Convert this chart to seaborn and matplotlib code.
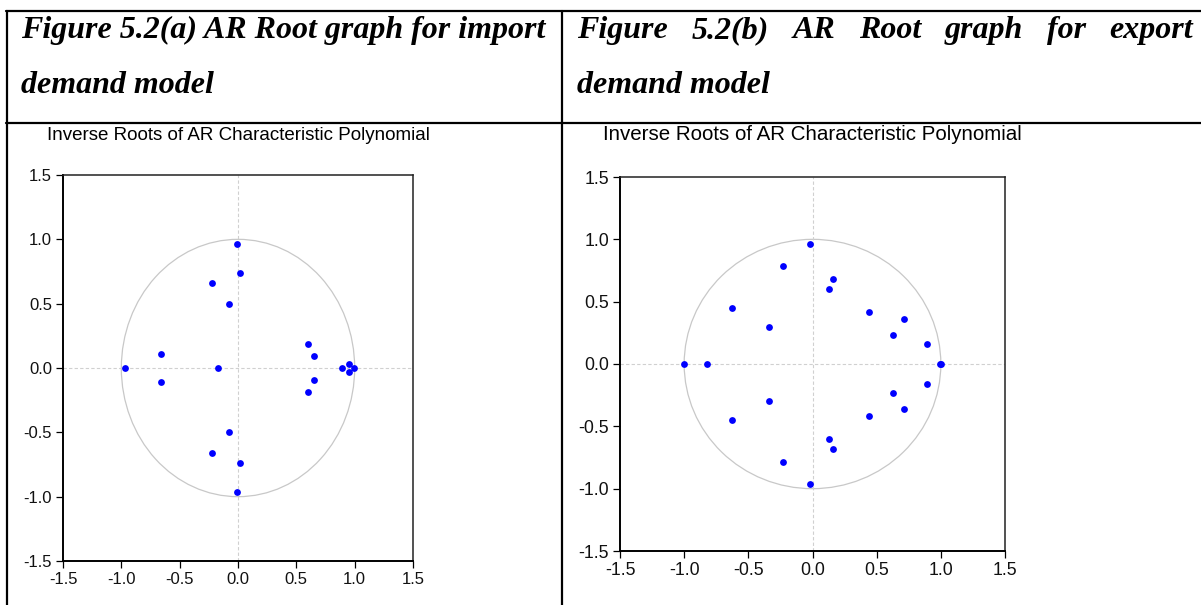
import numpy as np
import pandas as pd
import matplotlib
matplotlib.use("Agg")
import matplotlib.pyplot as plt
from matplotlib.patches import Circle
from matplotlib.lines import Line2D
import seaborn as sns

# Inverse roots, import demand model (a)
import_re = [-0.97, -0.66, -0.66, -0.17, 0.60, 0.65, 0.65, 0.60, 0.89, 0.95,
             0.95, 0.99, -0.08, -0.08, -0.22, -0.22, 0.02, 0.02, -0.01, -0.01]
import_im = [0.0, 0.11, -0.11, 0.0, 0.19, 0.09, -0.09, -0.19, 0.0, 0.03,
             -0.03, 0.0, 0.50, -0.50, 0.66, -0.66, 0.74, -0.74, 0.96, -0.96]

# Inverse roots, export demand model (b)
export_re = [-1.0, -0.82, 1.0, 0.99, -0.34, -0.34, -0.63, -0.63, -0.23, -0.23,
             -0.02, -0.02, 0.13, 0.13, 0.16, 0.16, 0.44, 0.44, 0.63, 0.63,
             0.71, 0.71, 0.89, 0.89]
export_im = [0.0, 0.0, 0.0, 0.0, 0.30, -0.30, 0.45, -0.45, 0.79, -0.79,
             0.96, -0.96, 0.60, -0.60, 0.68, -0.68, 0.42, -0.42, 0.23, -0.23,
             0.36, -0.36, 0.16, -0.16]

ticks = [-1.5, -1.0, -0.5, 0.0, 0.5, 1.0, 1.5]
tick_labels = ["-1.5", "-1.0", "-0.5", "0.0", "0.5", "1.0", "1.5"]

header_a = ["Figure 5.2(a) AR Root graph for import", "demand model"]
header_b = ["Figure 5.2(b) AR Root graph for export", "demand model"]
subtitle = "Inverse Roots of AR Characteristic Polynomial"

sns.set_theme(style="white")
plt.rcParams["font.family"] = ["Liberation Sans", "DejaVu Sans"]

W, H = 1201, 605
fig = plt.figure(figsize=(W / 100, H / 100), dpi=100)
renderer = fig.canvas.get_renderer()


def fx(px):
    return px / W


def fy(py):
    return 1 - py / H


def fit_text(x, y, s, target_w, size, **kw):
    t = fig.text(fx(x), fy(y), s, fontsize=size, va="baseline", ha="left", **kw)
    w = t.get_window_extent(renderer).width
    t.set_fontsize(size * target_w / w)
    return t


serif = dict(family="Liberation Serif", weight="bold", style="italic", color="black")

# table lines
lw_tab = 1.6
for (x0, x1, y0, y1) in [(6, W, 11, 11), (6, W, 122.7, 122.7),
                         (6.7, 6.7, 11, H), (562, 562, 11, H)]:
    fig.add_artist(Line2D([fx(x0), fx(x1)], [fy(y0), fy(y1)], color="black", lw=lw_tab))

# headers
t1 = fit_text(20.7, 38, header_a[0], 526, 19, **serif)
hsize = t1.get_fontsize()
fig.text(fx(20.7), fy(93), header_a[1], fontsize=hsize, va="baseline", **serif)

# justified first line for (b)
words = header_b[0].split()
wt = [fig.text(0, fy(38), w, fontsize=hsize, va="baseline", **serif) for w in words]
widths = [t.get_window_extent(renderer).width for t in wt]
x_start, x_end = 577, 1193
gap = (x_end - x_start - sum(widths)) / (len(words) - 1)
xc = x_start
for t, w in zip(wt, widths):
    t.set_x(fx(xc))
    xc += w + gap
fig.text(fx(577), fy(93), header_b[1], fontsize=hsize, va="baseline", **serif)

# subtitles
fit_text(46.7, 140, subtitle, 384, 12, color="black")
fit_text(603, 140, subtitle, 421, 12, color="black")


def root_panel(rect, re, im, label_size):
    ax = fig.add_axes(rect)
    df = pd.DataFrame({"re": re, "im": im})
    ax.add_patch(Circle((0, 0), 1.0, fill=False, edgecolor="#c8c8c8", lw=0.9, zorder=1))
    ax.axhline(0, color="#d0d0d0", lw=0.8, dashes=(3, 2), zorder=1)
    ax.axvline(0, color="#d0d0d0", lw=0.8, dashes=(3, 2), zorder=1)
    sns.scatterplot(data=df, x="re", y="im", ax=ax, color="#0000ff", s=24,
                    linewidth=0, zorder=3)
    ax.set_xlim(-1.5, 1.5)
    ax.set_ylim(-1.5, 1.5)
    ax.set_xticks(ticks)
    ax.set_xticklabels(tick_labels)
    ax.set_yticks(ticks)
    ax.set_yticklabels(tick_labels)
    ax.set_xlabel("")
    ax.set_ylabel("")
    ax.tick_params(axis="both", which="both", direction="out", length=5, width=0.9,
                   color="black", labelsize=label_size, labelcolor="#111111",
                   bottom=True, left=True, top=False, right=False, pad=3)
    for side in ["left", "bottom"]:
        ax.spines[side].set_color("black")
        ax.spines[side].set_linewidth(1.4)
    for side in ["top", "right"]:
        ax.spines[side].set_color("#222222")
        ax.spines[side].set_linewidth(1.1)
    ax.grid(False)
    return ax


root_panel([fx(63), fy(561), fx(413) - fx(63), fy(175) - fy(561)],
           import_re, import_im, 12)
root_panel([fx(620), fy(551), fx(1005) - fx(620), fy(177) - fy(551)],
           export_re, export_im, 12.8)

fig.savefig("out.png", dpi=100, facecolor="white")
